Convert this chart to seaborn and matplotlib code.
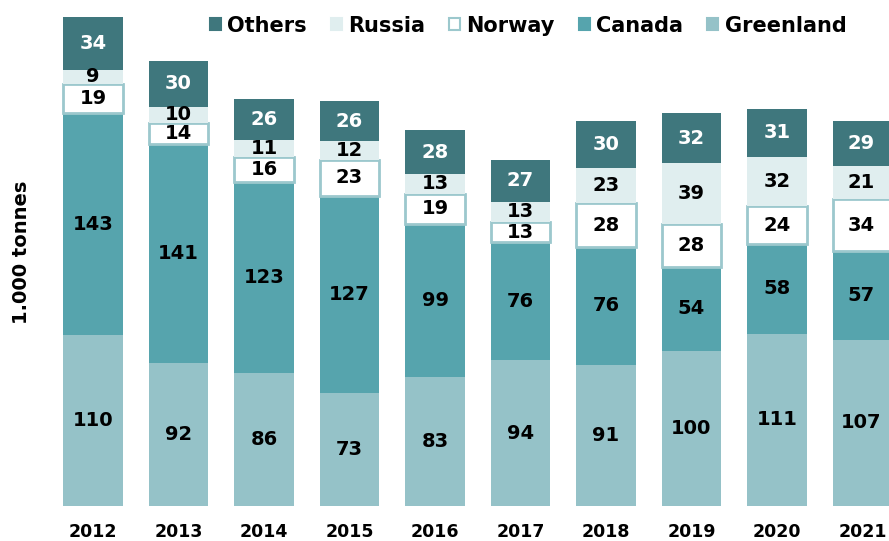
"""Stacked bar chart: catch by country, 1.000 tonnes, 2012-2021."""

import matplotlib.pyplot as plt
from matplotlib.patches import Patch
import seaborn as sns

sns.set_theme(style="white")
plt.rcParams["font.family"] = ["DejaVu Sans"]
plt.rcParams["text.color"] = "black"
plt.rcParams["xtick.color"] = "black"

YEARS = ["2012", "2013", "2014", "2015", "2016", "2017", "2018", "2019", "2020", "2021"]
GREENLAND = [110, 92, 86, 73, 83, 94, 91, 100, 111, 107]
CANADA = [143, 141, 123, 127, 99, 76, 76, 54, 58, 57]
NORWAY = [19, 14, 16, 23, 19, 13, 28, 28, 24, 34]
RUSSIA = [9, 10, 11, 12, 13, 13, 23, 39, 32, 21]
OTHERS = [34, 30, 26, 26, 28, 27, 30, 32, 31, 29]

SERIES = [
    ("Greenland", GREENLAND, "#95c2c8", "none", "black"),
    ("Canada", CANADA, "#56a4ad", "none", "black"),
    ("Norway", NORWAY, "#ffffff", "#9cc8cd", "black"),
    ("Russia", RUSSIA, "#e0eeef", "none", "black"),
    ("Others", OTHERS, "#3f777d", "none", "white"),
]

fig = plt.figure(figsize=(8.89, 5.41), dpi=100)
ax = fig.add_axes([50 / 889, 35 / 541, 839 / 889, 506 / 541])

bottom = [0] * len(YEARS)
for name, vals, color, edge, txt in SERIES:
    sns.barplot(x=YEARS, y=vals, bottom=bottom, color=color, edgecolor=edge,
                linewidth=2 if edge != "none" else 0, width=0.7,
                saturation=1, ax=ax)
    ax.bar_label(ax.containers[-1], labels=[str(v) for v in vals],
                 label_type="center", color=txt, fontsize=14, fontweight="bold")
    bottom = [b + v for b, v in zip(bottom, vals)]

ax.set_xlim(-0.503, 9.31)
ax.set_ylim(0, 326)
ax.set_yticks([])
ax.set_xlabel("")
ax.set_ylabel("")
ax.tick_params(axis="x", length=0, pad=12, labelsize=12.5)
for lbl in ax.get_xticklabels():
    lbl.set_fontweight("bold")
sns.despine(ax=ax, left=True, bottom=True)

fig.text(22 / 889, 1 - 252 / 541, "1.000 tonnes", rotation=90, ha="center",
         va="center", fontsize=14, fontweight="bold")

handles = [Patch(facecolor=c, edgecolor=(e if e != "none" else c), linewidth=1.5, label=n)
           for n, _, c, e, _ in reversed(SERIES)]
fig.legend(handles=handles, ncol=5, loc="upper right", bbox_to_anchor=(865 / 889, 1.006),
           frameon=False, handlelength=0.53, handleheight=0.53, handletextpad=0.3,
           columnspacing=1.15, prop={"size": 15, "weight": "bold"})

fig.savefig("out.png", dpi=100)
